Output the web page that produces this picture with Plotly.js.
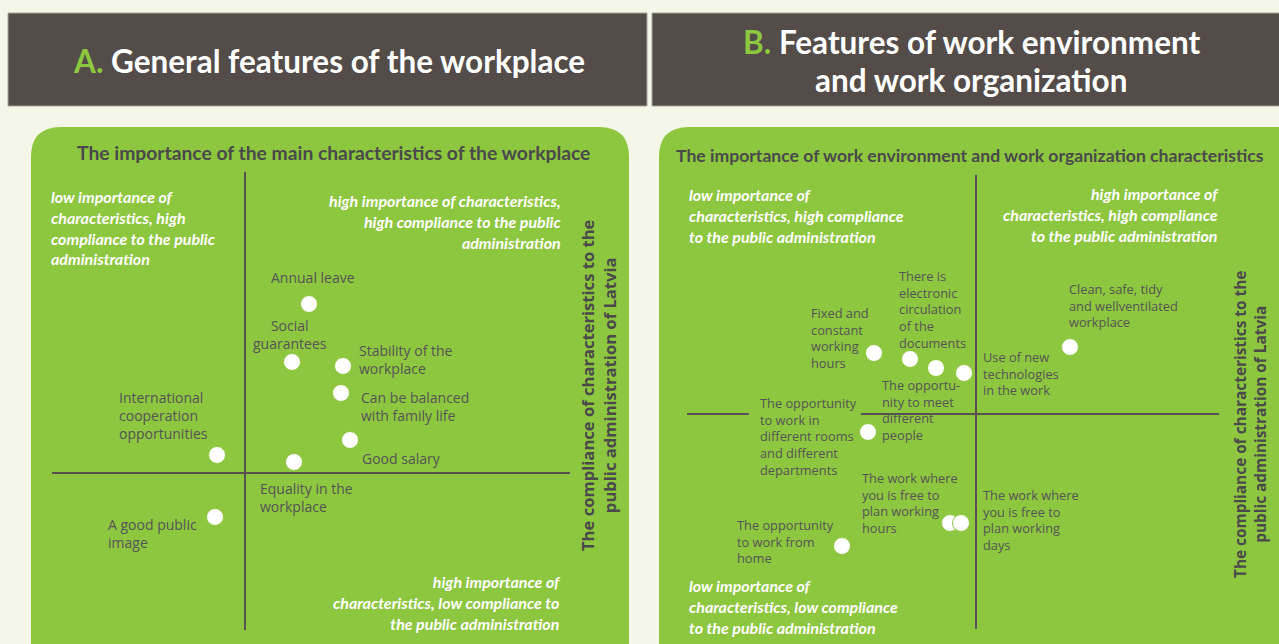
<!DOCTYPE html>
<html>
<head>
<meta charset="utf-8">
<script src="https://cdn.plot.ly/plotly-3.0.1.min.js"></script>
<style>html,body{margin:0;padding:0;background:#f4f7e8;}#chart{width:1279px;height:644px;}</style>
</head>
<body>
<div id="chart"></div>
<script>
// ---------- DATA (relative positions: importance on x, compliance on y; 0 = quadrant crossing) ----------
const aLabels = [
  "Annual leave",
  "Social<br>guarantees",
  "Stability of the<br>workplace",
  "Can be balanced<br>with family life",
  "Good salary",
  "Equality in the<br>workplace",
  "International<br>cooperation<br>opportunities",
  "A good public<br>image"
];
const aImportance = [6.4, 4.7, 9.8, 9.6, 10.5, 4.9, -2.8, -3.0];
const aCompliance = [16.9, 11.1, 10.7, 8.0, 3.3, 1.1, 1.8, -4.4];

const bLabels = [
  "Fixed and<br>constant<br>working<br>hours",
  "There is<br>electronic<br>circulation<br>of the<br>documents",
  "The opportu-<br>nity to meet<br>different<br>people",
  "Use of new<br>technologies<br>in the work",
  "Clean, safe, tidy<br>and wellventilated<br>workplace",
  "The opportunity<br>to work in<br>different rooms<br>and different<br>departments",
  "The work where<br>you is free to<br>plan working<br>hours",
  "The work where<br>you is free to<br>plan working<br>days",
  "The opportunity<br>to work from<br>home"
];
const bImportance = [-10.2, -6.6, -4.0, -1.2, 9.4, -10.8, -2.6, -1.5, -13.4];
const bCompliance = [6.1, 5.5, 4.6, 4.1, 6.7, -1.8, -10.9, -10.9, -13.2];

const headerA = "General features of the workplace";
const headerB1 = "Features of work environment";
const headerB2 = "and work organization";
const titleA = "The importance of the main characteristics of the workplace";
const titleB = "The importance of work environment and work organization characteristics";
const axisTitle = "The compliance of characteristics to the<br>public administration of Latvia";
const quadA = {
  tl: "low importance of<br>characteristics, high<br>compliance to the public<br>administration",
  tr: "high importance of characteristics,<br>high compliance to the public<br>administration",
  br: "high importance of<br>characteristics, low compliance to<br>the public administration"
};
const quadB = {
  tl: "low importance of<br>characteristics, high compliance<br>to the public administration",
  tr: "high importance of<br>characteristics, high compliance<br>to the public administration",
  bl: "low importance of<br>characteristics, low compliance<br>to the public administration"
};

// ---------- STYLE / LAYOUT ----------
const W = 1279, H = 644;
const GREEN = "#8dc63f", DARK = "#534c49", TXT = "#555555", TITLE = "#4a4a4a";
const px = x => x / W, py = y => 1 - y / H;

// label placement (pixel offsets from each point)
const aLabelPos = [
  {xa:"center", dx:4, dy:27}, {xa:"center", dx:-2, dy:28}, {xa:"left", dx:14, dy:7},
  {xa:"left", dx:18, dy:-13}, {xa:"left", dx:10, dy:-18}, {xa:"left", dx:-36, dy:-35},
  {xa:"left", dx:-100, dy:40}, {xa:"left", dx:-109, dy:-16}
];
const bLabelPos = [
  {xa:"left", dx:-65, dy:15}, {xa:"left", dx:-13, dy:50}, {xa:"left", dx:-56, dy:-42},
  {xa:"left", dx:17, dy:0}, {xa:"left", dx:-3, dy:42}, {xa:"left", dx:-110, dy:-4},
  {xa:"left", dx:-90, dy:20}, {xa:"left", dx:20, dy:3}, {xa:"left", dx:-107, dy:5}
];

function rrect(x0, y0, x1, y1, r) {
  const P = (x, y) => px(x).toFixed(5) + "," + py(y).toFixed(5);
  return "M" + P(x0 + r, y0) + " L" + P(x1 - r, y0) + " Q" + P(x1, y0) + " " + P(x1, y0 + r) +
    " L" + P(x1, y1 - r) + " Q" + P(x1, y1) + " " + P(x1 - r, y1) +
    " L" + P(x0 + r, y1) + " Q" + P(x0, y1) + " " + P(x0, y1 - r) +
    " L" + P(x0, y0 + r) + " Q" + P(x0, y0) + " " + P(x0 + r, y0) + " Z";
}

const traces = [
  {type:"scatter", mode:"markers", x:aImportance, y:aCompliance, xaxis:"x", yaxis:"y",
   marker:{size:17, color:"#ffffff", line:{color:GREEN, width:1}}, hoverinfo:"skip", showlegend:false},
  {type:"scatter", mode:"markers", x:bImportance, y:bCompliance, xaxis:"x2", yaxis:"y2",
   marker:{size:17, color:"#ffffff", line:{color:GREEN, width:1}}, hoverinfo:"skip", showlegend:false}
];

const lineStyle = {color:"#57524f", width:2};
const shapes = [
  {type:"rect", xref:"paper", yref:"paper", x0:px(8), x1:px(647), y0:py(106), y1:py(13), fillcolor:DARK, line:{color:"#a8a79b", width:1}, layer:"below"},
  {type:"rect", xref:"paper", yref:"paper", x0:px(652), x1:px(1290), y0:py(106), y1:py(13), fillcolor:DARK, line:{color:"#a8a79b", width:1}, layer:"below"},
  {type:"path", xref:"paper", yref:"paper", path:rrect(31, 127, 629, 672, 30), fillcolor:GREEN, line:{width:0}, layer:"below"},
  {type:"path", xref:"paper", yref:"paper", path:rrect(659, 127, 1310, 672, 30), fillcolor:GREEN, line:{width:0}, layer:"below"},
  // quadrant lines, panel A
  {type:"line", xref:"x", yref:"y", x0:0, x1:0, y0:-15.7, y1:30.1, line:lineStyle, layer:"below"},
  {type:"line", xref:"x", yref:"y", x0:-19.3, x1:32.5, y0:0, y1:0, line:lineStyle, layer:"below"},
  // quadrant lines, panel B
  {type:"line", xref:"x2", yref:"y2", x0:0, x1:0, y0:-21.5, y1:23.9, line:lineStyle, layer:"below"},
  {type:"line", xref:"x2", yref:"y2", x0:-28.9, x1:-22.7, y0:0, y1:0, line:lineStyle, layer:"below"},
  {type:"line", xref:"x2", yref:"y2", x0:-11.5, x1:24.3, y0:0, y1:0, line:lineStyle, layer:"below"}
];

const ann = [];
function paperText(text, x, y, opts) {
  ann.push(Object.assign({text:text, xref:"paper", yref:"paper", x:px(x), y:py(y), showarrow:false,
    xanchor:"center", yanchor:"middle"}, opts));
}
function pointLabel(text, xref, yref, x, y, p, font) {
  ann.push({text:text, xref:xref, yref:yref, x:x, y:y, showarrow:false,
    xanchor:p.xa, yanchor:"middle", xshift:p.dx, yshift:p.dy,
    align:p.xa === "center" ? "center" : "left", font:font});
}

// headers
const hf = {family:"Lato", size:31.5, weight:700, color:"#ffffff"};
paperText("<span style='color:" + GREEN + "'>A.</span> " + headerA, 329, 61, {font:hf});
paperText("<span style='color:" + GREEN + "'>B.</span> " + headerB1, 971, 42, {font:hf});
paperText(headerB2, 971, 80, {font:hf});
// panel titles
paperText(titleA, 333, 153, {font:{family:"Lato", size:19.3, weight:700, color:TITLE}});
paperText(titleB, 970, 155, {font:{family:"Lato", size:17.6, weight:700, color:TITLE}});
// rotated axis titles
paperText(axisTitle, 598, 385, {textangle:-90, font:{family:"Open Sans", size:16.6, weight:700, color:TITLE}});
paperText(axisTitle, 1250, 425, {textangle:-90, font:{family:"Open Sans", size:15.4, weight:700, color:TITLE}});
// quadrant descriptions
const qf = {family:"Lato", size:16, weight:700, style:"italic", color:"#ffffff"};
paperText(quadA.tl, 49, 227, {xanchor:"left", align:"left", font:qf});
paperText(quadA.tr, 563, 221, {xanchor:"right", align:"right", font:qf});
paperText(quadA.br, 563, 602, {xanchor:"right", align:"right", font:qf});
paperText(quadB.tl, 687, 215, {xanchor:"left", align:"left", font:qf});
paperText(quadB.tr, 1221, 214, {xanchor:"right", align:"right", font:qf});
paperText(quadB.bl, 687, 606, {xanchor:"left", align:"left", font:qf});

// point labels
const fa = {family:"Open Sans", size:14, color:TXT};
const fb = {family:"Open Sans", size:12.8, color:TXT};
aLabels.forEach((t, i) => pointLabel(t, "x", "y", aImportance[i], aCompliance[i], aLabelPos[i], fa));
bLabels.forEach((t, i) => pointLabel(t, "x2", "y2", bImportance[i], bCompliance[i], bLabelPos[i], fb));

const hidden = {visible:false, fixedrange:true, showgrid:false, zeroline:false};
const layout = {
  width:W, height:H, margin:{l:0, r:0, t:0, b:0},
  paper_bgcolor:"#f4f7e8", plot_bgcolor:"rgba(0,0,0,0)",
  showlegend:false,
  xaxis:Object.assign({domain:[31/W, 629/W], range:[-21.4, 38.4]}, hidden),
  yaxis:Object.assign({domain:[0, 1 - 127/H], range:[-17.1, 34.6]}, hidden),
  xaxis2:Object.assign({domain:[659/W, 1], range:[-31.7, 30.3], anchor:"y2"}, hidden),
  yaxis2:Object.assign({domain:[0, 1 - 127/H], range:[-23.0, 28.7], anchor:"x2"}, hidden),
  shapes:shapes,
  annotations:ann
};
Plotly.newPlot("chart", traces, layout, {staticPlot:true, displayModeBar:false});
</script>
</body>
</html>
